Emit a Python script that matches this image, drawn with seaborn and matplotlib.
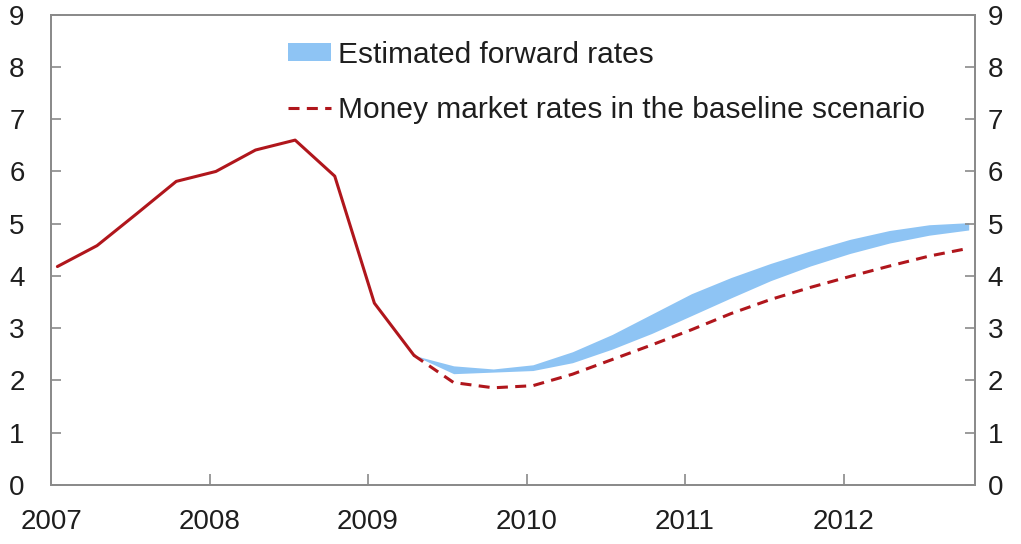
import matplotlib
matplotlib.use("Agg")
import matplotlib.pyplot as plt
import matplotlib.patches as mpatches
from matplotlib.lines import Line2D
import seaborn as sns
import pandas as pd

# quarterly observations, placed a couple of weeks into each quarter
hist_quarters = ["2007Q1", "2007Q2", "2007Q3", "2007Q4", "2008Q1", "2008Q2",
                 "2008Q3", "2008Q4", "2009Q1", "2009Q2"]
hist_rates = [4.18, 4.58, 5.19, 5.81, 6.0, 6.41, 6.6, 5.91, 3.48, 2.48]

proj_quarters = ["2009Q2", "2009Q3", "2009Q4", "2010Q1", "2010Q2", "2010Q3",
                 "2010Q4", "2011Q1", "2011Q2", "2011Q3", "2011Q4", "2012Q1",
                 "2012Q2", "2012Q3", "2012Q4"]
baseline = [2.48, 1.96, 1.86, 1.9, 2.12, 2.4, 2.68, 2.97, 3.28, 3.55, 3.78,
            3.99, 4.19, 4.38, 4.53]
fwd_upper = [2.48, 2.28, 2.22, 2.3, 2.55, 2.88, 3.27, 3.66, 3.97, 4.24, 4.48,
             4.7, 4.87, 4.98, 5.02]
fwd_lower = [2.48, 2.13, 2.16, 2.19, 2.34, 2.6, 2.9, 3.24, 3.58, 3.91, 4.19,
             4.43, 4.63, 4.78, 4.88]

year_ticks = [2007, 2008, 2009, 2010, 2011, 2012]


def to_x(q):
    p = pd.Period(q, freq="Q")
    return p.year + (p.quarter - 1) / 4 + 0.04


hist = pd.DataFrame({"x": [to_x(q) for q in hist_quarters], "rate": hist_rates})
proj = pd.DataFrame({"x": [to_x(q) for q in proj_quarters], "rate": baseline,
                     "lo": fwd_lower, "hi": fwd_upper})

red = "#B0161C"
blue = "#8EC4F4"
grey = "#8A8A8A"
ink = "#1E1E1E"

sns.set_style("ticks")
plt.rcParams["font.family"] = ["Liberation Sans", "DejaVu Sans"]

fig = plt.figure(figsize=(10.21, 5.44), dpi=100)
ax = fig.add_axes([0.050, 0.1085, 0.905, 0.8645])

ax.fill_between(proj["x"], proj["lo"], proj["hi"], color=blue, lw=0, zorder=1)
sns.lineplot(data=hist, x="x", y="rate", ax=ax, color=red, lw=2.2, zorder=3)
sns.lineplot(data=proj, x="x", y="rate", ax=ax, color=red, lw=2.2, zorder=3)
ax.lines[-1].set_dashes((3.6, 2.4))

ax.set_xlim(2007, 2012.83)
ax.set_ylim(0, 9)
ax.set_xticks(year_ticks)
ax.set_xticklabels([str(y) for y in year_ticks])
ax.set_yticks(range(0, 10))
ax.set_xlabel("")
ax.set_ylabel("")

# right-hand scale with its own label spacing
ax2 = ax.twinx()
ax2.set_ylim(0, 9)
ax2.set_yticks(range(0, 10))

for a in (ax, ax2):
    for s in a.spines.values():
        s.set_color(grey)
        s.set_linewidth(1.3)

ax.tick_params(axis="y", direction="in", length=7, color=grey, width=1.2,
               labelsize=20, pad=19, labelcolor=ink)
ax2.tick_params(axis="y", direction="in", length=7, color=grey, width=1.2,
                labelsize=20, pad=9, labelcolor=ink)
ax.tick_params(axis="x", direction="in", length=8, color=grey, width=1.2,
               labelsize=20, pad=17, labelcolor=ink)
ax.xaxis.get_major_ticks()[0].tick1line.set_visible(False)

handles = [mpatches.Patch(color=blue, lw=0),
           Line2D([], [], color=red, lw=2.2, dashes=(3.6, 2.4))]
labels = ["Estimated forward rates", "Money market rates in the baseline scenario"]
ax.legend(handles, labels, loc="upper left", bbox_to_anchor=(0.243, 0.97),
          frameon=False, fontsize=21.5, handlelength=1.45, handleheight=0.55,
          handletextpad=0.25, labelspacing=0.9, borderaxespad=0,
          labelcolor=ink)

fig.savefig("out.png", dpi=100)
